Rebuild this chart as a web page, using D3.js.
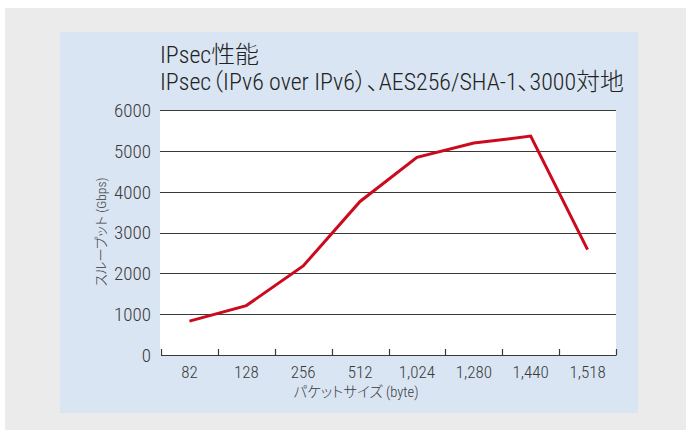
<!DOCTYPE html>
<html><head><meta charset="utf-8">
<script src="https://cdn.jsdelivr.net/npm/d3@7"></script>
<style>
html,body{margin:0;padding:0;background:#fff;}
svg{display:block;}
text{font-family:"Roboto Condensed","Open Sans","DejaVu Sans Condensed","Noto Sans CJK JP",sans-serif;font-stretch:75%;font-weight:300;font-feature-settings:"palt" 1;}
</style></head>
<body>
<svg id="c" width="686" height="430"></svg>
<script>
const titleLines = ["IPsec性能", "IPsec（IPv6 over IPv6）、AES256/SHA-1、3000対地"];
const categories = ["82", "128", "256", "512", "1,024", "1,280", "1,440", "1,518"];
const throughput = [830, 1210, 2180, 3760, 4840, 5190, 5360, 2580];
const yTicks = [0, 1000, 2000, 3000, 4000, 5000, 6000];
const xTitle = "パケットサイズ (byte)";
const yTitle = "スループット (Gbps)";

const svg = d3.select("#c");
svg.append("rect").attr("x",5).attr("y",8).attr("width",681).attr("height",422).attr("fill","#ebebeb");
svg.append("rect").attr("x",60).attr("y",32).attr("width",578).attr("height",381).attr("fill","#d9e5f3");

const L=161, R=616, T=110, B=355;
const x = d3.scaleBand().domain(categories).range([L,R]);
const y = d3.scaleLinear().domain([0,6000]).range([B,T]);

svg.append("rect").attr("x",L-1).attr("y",T).attr("width",R-L+1).attr("height",B-T).attr("fill","#fff");

// gridlines
svg.append("g").selectAll("line").data(yTicks.filter(d=>d>0)).join("line")
  .attr("x1",L-1).attr("x2",R).attr("y1",d=>Math.round(y(d))+0.5).attr("y2",d=>Math.round(y(d))+0.5)
  .attr("stroke","#3a3a3a").attr("stroke-width",1.2);

// y labels
svg.append("g").selectAll("text").data(yTicks).join("text")
  .attr("x",151).attr("y",d=>y(d)).attr("dy","0.36em").attr("text-anchor","end")
  .attr("font-size",19).attr("fill","#3a3a3a").text(d=>d);

// x axis with inward ticks at band boundaries
const ax = svg.append("g");
ax.append("line").attr("x1",L).attr("x2",R).attr("y1",B+0.5).attr("y2",B+0.5).attr("stroke","#3a3a3a").attr("stroke-width",1.2);
const bounds = categories.map(c=>x(c)).concat([x(categories[categories.length-1])+x.bandwidth()]);
ax.selectAll("line.t").data(bounds).join("line").attr("class","t")
  .attr("x1",d=>Math.round(d)+0.5).attr("x2",d=>Math.round(d)+0.5).attr("y1",B+0.5).attr("y2",B-6)
  .attr("stroke","#3a3a3a").attr("stroke-width",1.2);
ax.selectAll("text").data(categories).join("text")
  .attr("x",d=>x(d)+x.bandwidth()/2).attr("y",372).attr("dy","0.36em").attr("text-anchor","middle")
  .attr("font-size",17).attr("fill","#3a3a3a").text(d=>d);

svg.append("text").attr("x",356).attr("y",392).attr("dy","0.36em").attr("text-anchor","middle")
  .attr("font-size",14.5).attr("fill","#3a3a3a").text(xTitle);
svg.append("text").attr("transform",`translate(101,232) rotate(-90)`).attr("dy","0.36em")
  .attr("text-anchor","middle").attr("font-size",13.5).attr("fill","#3a3a3a").text(yTitle);

// line
const line = d3.line().x((d,i)=>x(categories[i])+x.bandwidth()/2).y(d=>y(d));
svg.append("path").datum(throughput).attr("d",line).attr("fill","none")
  .attr("stroke","#cc0a1e").attr("stroke-width",3).attr("stroke-linejoin","miter");

// titles: pick font size so line 2 spans the reference width
const t1 = svg.append("text").attr("x",160).attr("y",63).attr("fill","#222").text(titleLines[0]);
const t2 = svg.append("text").attr("x",160).attr("y",90).attr("fill","#222").text(titleLines[1]);
t2.attr("font-size",23);
const w2 = t2.node().getComputedTextLength();
const fs = Math.min(26, 23*464/w2);
t1.attr("font-size",fs); t2.attr("font-size",fs);
</script>
</body></html>
